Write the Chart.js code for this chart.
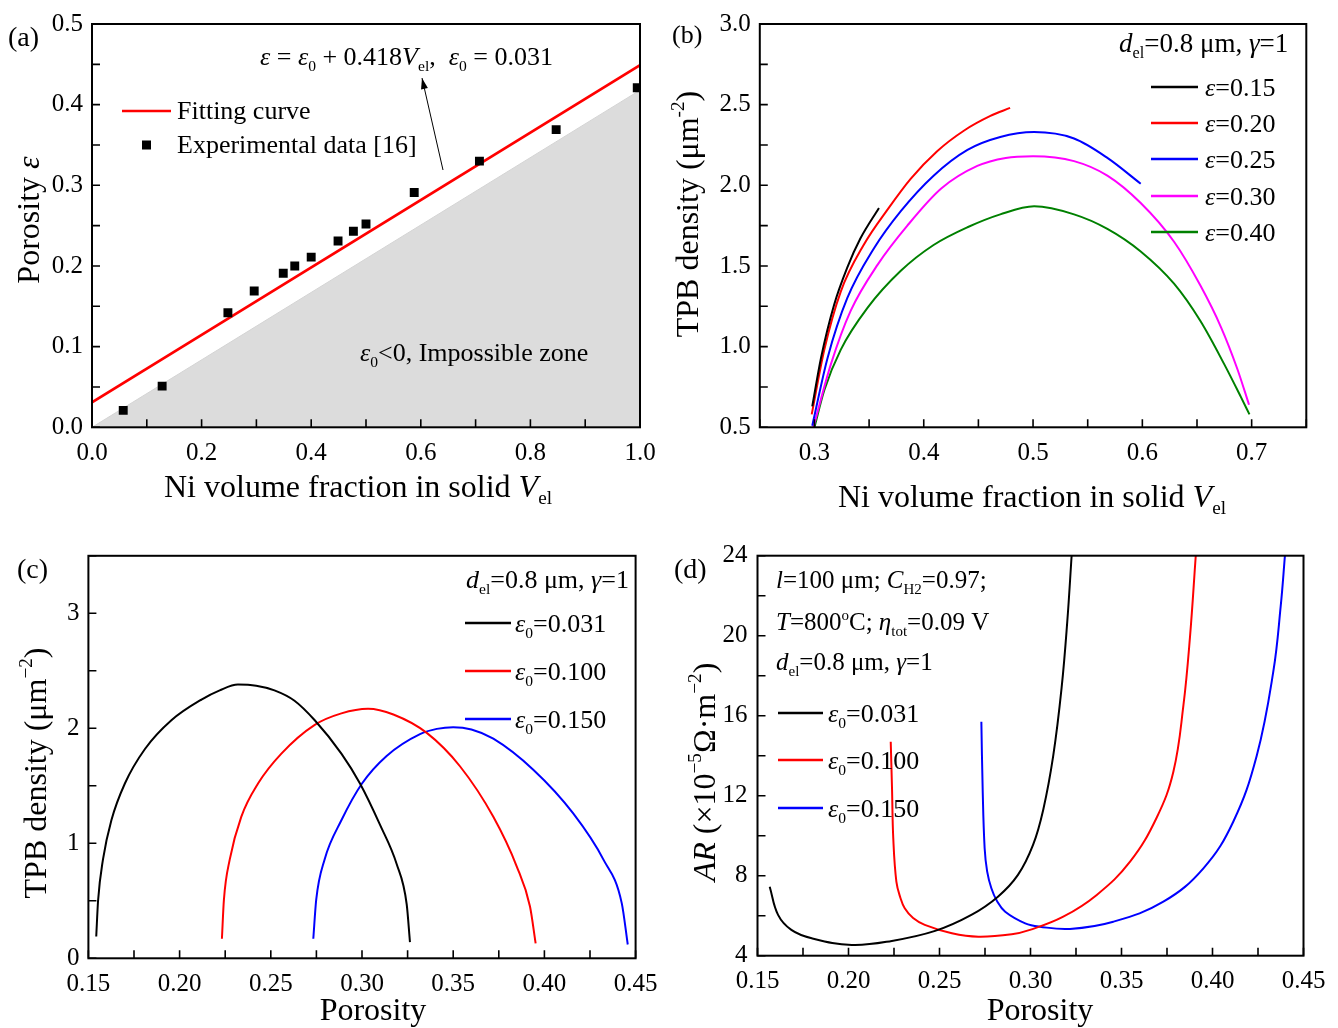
<!DOCTYPE html>
<html>
<head>
<meta charset="utf-8">
<title>Porosity and TPB density</title>
<script src="https://cdn.jsdelivr.net/npm/chart.js@4.4.1/dist/chart.umd.min.js"></script>
<style>
  body { margin: 0; background: #fff; }
  #wrap { position: relative; width: 1338px; height: 1028px; }
  #wrap canvas { position: absolute; }
</style>
</head>
<body>
<div id="wrap">
  <canvas id="chartA" width="669" height="520" style="left:0;top:0"></canvas>
  <canvas id="chartB" width="669" height="520" style="left:669px;top:0"></canvas>
  <canvas id="chartC" width="669" height="508" style="left:0;top:520px"></canvas>
  <canvas id="chartD" width="669" height="508" style="left:669px;top:520px"></canvas>
</div>
<script>
// (a) porosity vs Ni volume fraction
const expV   = [0.057, 0.128, 0.248, 0.296, 0.349, 0.370, 0.400, 0.449, 0.477, 0.500, 0.588, 0.707, 0.847, 0.995];
const expEps = [0.021, 0.051, 0.142, 0.169, 0.191, 0.200, 0.211, 0.231, 0.243, 0.252, 0.291, 0.330, 0.369, 0.421];
const fitV   = [0, 1];
const fitEps = [0.031, 0.449];   // eps0 = 0.031, slope 0.418
const zoneV  = [0, 1];
const zoneEps = [0, 0.418];      // eps0 = 0 boundary

// (b) TPB density vs Ni volume fraction
const v15 = [0.298, 0.306, 0.318, 0.330, 0.342, 0.359];
const tpb15 = [0.63, 0.93, 1.26, 1.49, 1.67, 1.86];
const v20 = [0.2975, 0.309, 0.324, 0.345, 0.368, 0.388, 0.412, 0.437, 0.461, 0.479];
const tpb20 = [0.58, 0.98, 1.34, 1.63, 1.86, 2.04, 2.21, 2.34, 2.43, 2.48];
const v25 = [0.298, 0.312, 0.330, 0.3545, 0.379, 0.409, 0.440, 0.470, 0.501, 0.5375, 0.568, 0.5985];
const tpb25 = [0.51, 0.93, 1.30, 1.61, 1.84, 2.06, 2.22, 2.30, 2.33, 2.29, 2.17, 2.01];
const v30 = [0.299, 0.315, 0.333, 0.358, 0.385, 0.416, 0.449, 0.475, 0.500, 0.5375, 0.568, 0.5985, 0.629, 0.653, 0.672, 0.687, 0.6976];
const tpb30 = [0.50, 0.89, 1.22, 1.51, 1.75, 1.98, 2.12, 2.17, 2.18, 2.15, 2.06, 1.89, 1.65, 1.38, 1.12, 0.86, 0.64];
const v40 = [0.300, 0.309, 0.324, 0.3485, 0.379, 0.409, 0.440, 0.470, 0.501, 0.5375, 0.568, 0.5985, 0.629, 0.653, 0.675, 0.690, 0.698];
const tpb40 = [0.50, 0.73, 0.98, 1.24, 1.47, 1.63, 1.74, 1.82, 1.87, 1.82, 1.73, 1.59, 1.39, 1.16, 0.89, 0.69, 0.58];
const bLabels = ['0.15', '0.20', '0.25', '0.30', '0.40'];

// (c) TPB density vs porosity
const pc031 = [0.1543, 0.1553, 0.158, 0.1626, 0.170, 0.181, 0.1955, 0.212, 0.222, 0.232, 0.242, 0.252, 0.263, 0.2741, 0.2887, 0.2989, 0.3099, 0.319, 0.3245, 0.3263];
const tc031 = [0.19, 0.50, 0.86, 1.20, 1.52, 1.82, 2.07, 2.25, 2.33, 2.38, 2.37, 2.33, 2.24, 2.07, 1.78, 1.52, 1.16, 0.82, 0.47, 0.14];
const pc100 = [0.2232, 0.2243, 0.2275, 0.2338, 0.243, 0.2558, 0.2741, 0.2887, 0.3033, 0.3172, 0.3355, 0.3537, 0.372, 0.3848, 0.3921, 0.3952];
const tc100 = [0.17, 0.51, 0.86, 1.23, 1.52, 1.78, 2.03, 2.13, 2.17, 2.12, 1.96, 1.67, 1.23, 0.80, 0.45, 0.13];
const pc150 = [0.2733, 0.2749, 0.2795, 0.2887, 0.300, 0.3135, 0.3318, 0.341, 0.350, 0.360, 0.372, 0.3939, 0.4158, 0.4323, 0.4424, 0.4457];
const tc150 = [0.17, 0.51, 0.86, 1.20, 1.52, 1.76, 1.95, 1.995, 2.01, 1.99, 1.91, 1.64, 1.26, 0.86, 0.48, 0.12];

// (d) area specific resistance vs porosity
const pd031 = [0.1567, 0.1613, 0.1686, 0.1798, 0.2018, 0.2238, 0.2476, 0.2675, 0.2821, 0.2931, 0.3014, 0.307, 0.3125, 0.3171, 0.3202, 0.3226];
const ar031 = [7.45, 6.04, 5.29, 4.87, 4.54, 4.74, 5.24, 6.04, 6.95, 8.04, 9.54, 11.3, 14.0, 17.4, 20.7, 24.0];
const pd100 = [0.2232, 0.2239, 0.2246, 0.2263, 0.2285, 0.2309, 0.2355, 0.2419, 0.2568, 0.2714, 0.2897, 0.2997, 0.318, 0.3364, 0.3547, 0.3693, 0.3785, 0.384, 0.3876, 0.3908];
const ar100 = [14.7, 12.4, 9.87, 7.7, 6.9, 6.37, 5.88, 5.54, 5.12, 4.95, 5.07, 5.29, 5.95, 7.04, 8.7, 10.9, 13.2, 16.5, 19.9, 24.0];
const pd150 = [0.273, 0.2737, 0.2748, 0.2762, 0.2785, 0.2815, 0.2861, 0.2971, 0.3052, 0.3217, 0.3455, 0.373, 0.395, 0.4114, 0.4243, 0.4334, 0.4375, 0.4398];
const ar150 = [15.7, 12.4, 9.37, 8.2, 7.37, 6.75, 6.2, 5.62, 5.45, 5.34, 5.7, 6.7, 8.37, 10.7, 14.0, 18.2, 21.5, 24.0];
const eps0Labels = ['0.031', '0.100', '0.150'];

const SERIF = '"Liberation Serif", "Times New Roman", serif';
const COLORS = ['#000000', '#ff0000', '#0000ff', '#ff00ff', '#008000'];

function pts(xs, ys) {
  return xs.map((x, i) => ({ x: x, y: ys[i] }));
}

// smooth: 'monotone' for the dome curves, bezier tension for the sharp knees in (d)
function curve(xs, ys, color, smooth) {
  const ds = {
    data: pts(xs, ys), showLine: true, borderColor: color, borderWidth: 2,
    pointRadius: 0, fill: false
  };
  if (smooth === 'monotone') ds.cubicInterpolationMode = 'monotone';
  else ds.tension = 0.4;
  return ds;
}

// text made of pieces: [text, flags], flags: i = italic, _ = subscript, ^ = superscript
function rich(ctx, x, y, segs, size, align) {
  const parts = segs.map(s => {
    const f = s[1] || '';
    const small = f.includes('_') || f.includes('^');
    const sz = small ? size * 0.6 : size;
    const font = (f.includes('i') ? 'italic ' : '') + sz.toFixed(1) + 'px ' + SERIF;
    ctx.font = font;
    let dy = 0;
    if (f.includes('_')) dy = size * 0.22;
    if (f.includes('^')) dy = -size * 0.42;
    return { t: s[0], font: font, w: ctx.measureText(s[0]).width, dy: dy };
  });
  const total = parts.reduce((a, p) => a + p.w, 0);
  let cx = x;
  if (align === 'center') cx = x - total / 2;
  if (align === 'right') cx = x - total;
  ctx.textAlign = 'left';
  ctx.textBaseline = 'alphabetic';
  ctx.fillStyle = '#000';
  parts.forEach(p => {
    ctx.font = p.font;
    ctx.fillText(p.t, cx, y + p.dy);
    cx += p.w;
  });
  return total;
}

function vtext(ctx, cx, cy, segs, size) {
  ctx.save();
  ctx.translate(cx, cy);
  ctx.rotate(-Math.PI / 2);
  rich(ctx, 0, size * 0.33, segs, size, 'center');
  ctx.restore();
}

function seg(ctx, x1, y1, x2, y2, color, w) {
  ctx.strokeStyle = color;
  ctx.lineWidth = w;
  ctx.beginPath();
  ctx.moveTo(x1, y1);
  ctx.lineTo(x2, y2);
  ctx.stroke();
}

function arrow(ctx, x1, y1, x2, y2) {
  seg(ctx, x1, y1, x2, y2, '#000', 1);
  const ang = Math.atan2(y2 - y1, x2 - x1);
  ctx.fillStyle = '#000';
  ctx.beginPath();
  ctx.moveTo(x2, y2);
  ctx.lineTo(x2 - 11 * Math.cos(ang) + 3.5 * Math.sin(ang), y2 - 11 * Math.sin(ang) - 3.5 * Math.cos(ang));
  ctx.lineTo(x2 - 11 * Math.cos(ang) - 3.5 * Math.sin(ang), y2 - 11 * Math.sin(ang) + 3.5 * Math.cos(ang));
  ctx.closePath();
  ctx.fill();
}

// box frame, inward ticks, then the panel's own text (page coordinates)
function framePlugin(ox, oy, draw) {
  return {
    id: 'frame',
    afterDraw(chart) {
      const ctx = chart.ctx, a = chart.chartArea;
      const sx = chart.scales.x, sy = chart.scales.y;
      ctx.save();
      ctx.strokeStyle = '#000';
      ctx.lineWidth = 2;
      ctx.strokeRect(a.left, a.top, a.right - a.left, a.bottom - a.top);
      ctx.lineWidth = 1.6;
      ctx.beginPath();
      sx.ticks.forEach(t => {
        const px = sx.getPixelForValue(t.value);
        ctx.moveTo(px, a.bottom);
        ctx.lineTo(px, a.bottom - 8);
      });
      sy.ticks.forEach(t => {
        const py = sy.getPixelForValue(t.value);
        ctx.moveTo(a.left, py);
        ctx.lineTo(a.left + 8, py);
      });
      ctx.stroke();
      ctx.translate(-ox, -oy);
      draw(ctx);
      ctx.restore();
    }
  };
}

function axis(a, fit) {
  return {
    type: 'linear', min: a.min, max: a.max, afterFit: fit,
    grid: { display: false, drawTicks: false },
    border: { display: false },
    ticks: {
      stepSize: a.step, autoSkip: false, maxRotation: 0, padding: a.pad,
      color: '#000', font: { family: SERIF, size: 25 },
      callback: function (v) {
        const r = v / a.major;
        return Math.abs(r - Math.round(r)) < 1e-6 ? v.toFixed(a.digits) : '';
      }
    }
  };
}

function panel(id, cfg) {
  const b = cfg.box;
  return new Chart(document.getElementById(id), {
    type: 'scatter',
    data: { datasets: cfg.datasets },
    options: {
      responsive: false,
      animation: false,
      devicePixelRatio: 1,
      layout: { padding: { left: 0, top: b.T, right: b.W - b.R, bottom: 0 } },
      plugins: { legend: { display: false }, tooltip: { enabled: false } },
      scales: {
        x: axis(cfg.x, s => { s.height = b.H - b.B; }),
        y: axis(cfg.y, s => { s.width = b.L; })
      }
    },
    plugins: [framePlugin(cfg.ox, cfg.oy, cfg.draw)]
  });
}

// ---- (a)
panel('chartA', {
  ox: 0, oy: 0,
  box: { W: 669, H: 520, L: 92, R: 640, T: 20.8, B: 427.3 },
  x: { min: 0, max: 1, step: 0.1, major: 0.2, digits: 1, pad: 11 },
  y: { min: 0, max: 0.5, step: 0.05, major: 0.1, digits: 1, pad: 9 },
  datasets: [
    { data: pts(expV, expEps), pointStyle: 'rect', pointRadius: 6.3, backgroundColor: '#000', borderWidth: 0, order: 0 },
    { data: pts(fitV, fitEps), showLine: true, borderColor: '#ff0000', borderWidth: 2.6, pointRadius: 0, order: 1 },
    { data: pts(zoneV, zoneEps), showLine: true, borderColor: '#d4d4d4', borderWidth: 1, pointRadius: 0,
      fill: 'origin', backgroundColor: '#dcdcdc', order: 2 }
  ],
  draw(ctx) {
    rich(ctx, 8, 46, [['(a)']], 28);
    rich(ctx, 260, 65, [['ε', 'i'], [' = '], ['ε', 'i'], ['0', '_'], [' + 0.418'], ['V', 'i'], ['el', '_'],
      [',  '], ['ε', 'i'], ['0', '_'], [' = 0.031']], 26);
    seg(ctx, 122, 111, 171, 111, '#ff0000', 2.6);
    rich(ctx, 177, 119, [['Fitting curve']], 26);
    ctx.fillStyle = '#000';
    ctx.fillRect(142, 140.5, 9, 9);
    rich(ctx, 177, 153, [['Experimental data [16]']], 26);
    arrow(ctx, 443, 170, 422, 78);
    rich(ctx, 360, 361, [['ε', 'i'], ['0', '_'], ['<0, Impossible zone']], 26);
    vtext(ctx, 28, 220, [['Porosity '], ['ε', 'i']], 32);
    rich(ctx, 358, 497, [['Ni volume fraction in solid '], ['V', 'i'], ['el', '_']], 32, 'center');
  }
});

// ---- (b)
const bXs = [v15, v20, v25, v30, v40];
const bYs = [tpb15, tpb20, tpb25, tpb30, tpb40];
panel('chartB', {
  ox: 669, oy: 0,
  box: { W: 669, H: 520, L: 90.8, R: 637.3, T: 20.3, B: 427.3 },
  x: { min: 0.25, max: 0.75, step: 0.05, major: 0.1, digits: 1, pad: 11 },
  y: { min: 0.5, max: 3.0, step: 0.25, major: 0.5, digits: 1, pad: 9 },
  datasets: bXs.map((xs, i) => curve(xs, bYs[i], COLORS[i], 'monotone')),
  draw(ctx) {
    rich(ctx, 672, 43, [['(b)']], 26);
    rich(ctx, 1119, 52, [['d', 'i'], ['el', '_'], ['=0.8 μm, '], ['γ', 'i'], ['=1']], 27);
    const rows = [87, 123, 159, 196, 232];
    bLabels.forEach((lab, i) => {
      seg(ctx, 1151, rows[i], 1198, rows[i], COLORS[i], 2.4);
      rich(ctx, 1205, rows[i] + 9, [['ε', 'i'], ['=' + lab]], 26);
    });
    vtext(ctx, 687, 214, [['TPB density (μm'], ['-2', '^'], [')']], 32);
    rich(ctx, 1032, 507, [['Ni volume fraction in solid '], ['V', 'i'], ['el', '_']], 32, 'center');
  }
});

// ---- (c)
const cXs = [pc031, pc100, pc150];
const cYs = [tc031, tc100, tc150];
panel('chartC', {
  ox: 0, oy: 520,
  box: { W: 669, H: 508, L: 88.4, R: 635.6, T: 35.8, B: 438.3 },
  x: { min: 0.15, max: 0.45, step: 0.025, major: 0.05, digits: 2, pad: 11 },
  y: { min: 0, max: 3.5, step: 0.5, major: 1, digits: 0, pad: 9 },
  datasets: cXs.map((xs, i) => curve(xs, cYs[i], COLORS[i], 'monotone')),
  draw(ctx) {
    rich(ctx, 17, 578, [['(c)']], 28);
    rich(ctx, 466, 588, [['d', 'i'], ['el', '_'], ['=0.8 μm, '], ['γ', 'i'], ['=1']], 26);
    const rows = [623, 671, 719];
    eps0Labels.forEach((lab, i) => {
      seg(ctx, 465, rows[i], 511, rows[i], COLORS[i], 2.4);
      rich(ctx, 515, rows[i] + 9, [['ε', 'i'], ['0', '_'], ['=' + lab]], 26);
    });
    vtext(ctx, 35, 773, [['TPB density (μm'], ['−2', '^'], [')']], 32);
    rich(ctx, 373, 1020, [['Porosity']], 32, 'center');
  }
});

// ---- (d)
const dXs = [pd031, pd100, pd150];
const dYs = [ar031, ar100, ar150];
panel('chartD', {
  ox: 669, oy: 520,
  box: { W: 669, H: 508, L: 88.5, R: 634.5, T: 35.7, B: 435.7 },
  x: { min: 0.15, max: 0.45, step: 0.025, major: 0.05, digits: 2, pad: 11 },
  y: { min: 4, max: 24, step: 2, major: 4, digits: 0, pad: 10 },
  datasets: dXs.map((xs, i) => curve(xs, dYs[i], COLORS[i], 'bezier')),
  draw(ctx) {
    rich(ctx, 674, 578, [['(d)']], 28);
    rich(ctx, 776, 588, [['l', 'i'], ['=100 μm; '], ['C', 'i'], ['H2', '_'], ['=0.97;']], 25);
    rich(ctx, 776, 630, [['T', 'i'], ['=800'], ['o', '^'], ['C; '], ['η', 'i'], ['tot', '_'], ['=0.09 V']], 25);
    rich(ctx, 776, 670, [['d', 'i'], ['el', '_'], ['=0.8 μm, '], ['γ', 'i'], ['=1']], 25);
    const rows = [713, 760, 808];
    eps0Labels.forEach((lab, i) => {
      seg(ctx, 778, rows[i], 823, rows[i], COLORS[i], 2.4);
      rich(ctx, 828, rows[i] + 9, [['ε', 'i'], ['0', '_'], ['=' + lab]], 26);
    });
    vtext(ctx, 704, 772, [['AR', 'i'], [' (×10'], ['−5', '^'], ['Ω·m'], ['−2', '^'], [')']], 32);
    rich(ctx, 1040, 1020, [['Porosity']], 32, 'center');
  }
});
</script>
</body>
</html>
